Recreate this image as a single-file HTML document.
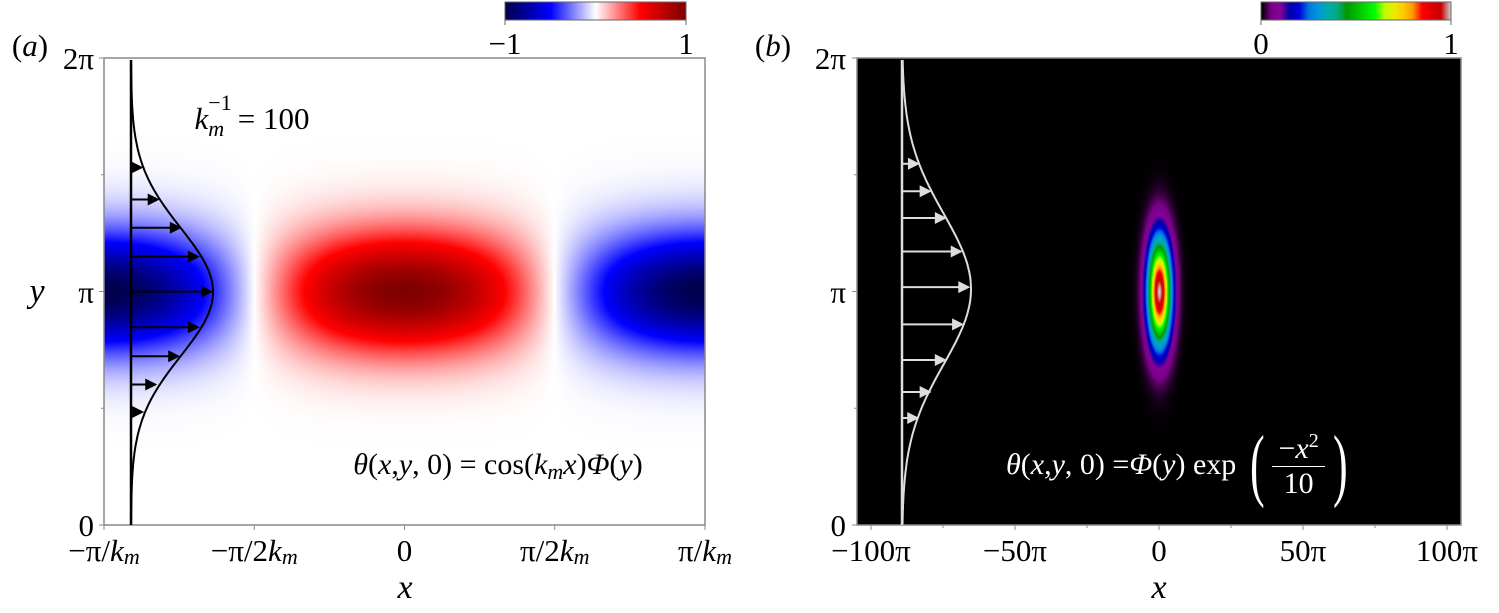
<!DOCTYPE html>
<html><head><meta charset="utf-8"><style>
html,body{margin:0;padding:0;background:#fff;}
#root{position:relative;width:1499px;height:613px;overflow:hidden;}
#root, #root div, #root span, svg text{font-family:"Liberation Serif","Times New Roman",Times,"DejaVu Serif",serif !important;}
canvas{position:absolute;}
svg{position:absolute;left:0;top:0;}
.sub{font-size:22px;font-style:italic;position:relative;top:7px;}
</style></head><body>
<div id="root">
<canvas id="ca" width="601" height="467" style="left:104px;top:58px"></canvas>
<canvas id="cb" width="604" height="467" style="left:857px;top:58px"></canvas>
<canvas id="cba" width="181" height="18" style="left:505px;top:2px"></canvas>
<canvas id="cbb" width="190" height="18" style="left:1261px;top:2px"></canvas>
<svg id="svg" width="1499" height="613"></svg>
</div>
<script>
// ---- data ----
const yTickVals = [0, Math.PI, 2*Math.PI];
const yTickLabels = ["0", "π", "2π"];
const xTickValsA = [-1, -0.5, 0, 0.5, 1];
const xTickLabelsA = ["−π/<i>k</i><span class='sub'>m</span>", "−π/2<i>k</i><span class='sub'>m</span>", "0", "π/2<i>k</i><span class='sub'>m</span>", "π/<i>k</i><span class='sub'>m</span>"];
const xTickValsB = [-100, -50, 0, 50, 100];
const xTickLabelsB = ["−100π", "−50π", "0", "50π", "100π"];
const arrowYA = [4.81, 4.38, 4.00, 3.61, 3.14, 2.66, 2.27, 1.89, 1.52];
const arrowUA = [0.15, 0.35, 0.62, 0.84, 1.0, 0.84, 0.60, 0.32, 0.16];
const arrowYB = [4.86, 4.49, 4.13, 3.68, 3.20, 2.70, 2.22, 1.79, 1.44];
const arrowUB = [0.26, 0.43, 0.65, 0.88, 0.99, 0.90, 0.65, 0.43, 0.25];

// ---- axes ----
const TOP=58, BOT=525;
const yS = v => BOT - v/(2*Math.PI)*(BOT-TOP);
const xA = v => 104 + (v+1)/2*(705-104);
const xB = v => 871 + (v+100)/200*(1447-871);
const NS="http://www.w3.org/2000/svg";
const svg=document.getElementById('svg');
function mk(tag, attrs, parent){const e=document.createElementNS(NS,tag);for(const k in attrs)e.setAttribute(k,attrs[k]);(parent||svg).appendChild(e);return e;}

function seismic(v){
  const t=(v+1)/2; let r,g,b;
  if(t<0.25){const s=t/0.25;r=0;g=0;b=0.3+0.7*s;}
  else if(t<0.5){const s=(t-0.25)/0.25;r=s;g=s;b=1;}
  else if(t<0.75){const s=(t-0.5)/0.25;r=1;g=1-s;b=1-s;}
  else {const s=(t-0.75)/0.25;r=1-0.5*s;g=0;b=0;}
  return [r*255,g*255,b*255];
}
const specStops=[[0,0,0,0],[0.05,0.47,0,0.53],[0.1,0.53,0,0.6],[0.15,0,0,0.67],[0.2,0,0,0.87],[0.25,0,0.47,0.87],[0.3,0,0.6,0.87],[0.35,0,0.67,0.67],[0.4,0,0.67,0.53],[0.45,0,0.6,0],[0.5,0,0.73,0],[0.55,0,0.87,0],[0.6,0,1,0],[0.65,0.73,1,0],[0.7,0.93,0.93,0],[0.75,1,0.8,0],[0.8,1,0.6,0],[0.85,1,0,0],[0.9,0.87,0,0],[0.95,0.8,0,0],[1,0.8,0.8,0.8]];
function spectral(t){t=Math.max(0,Math.min(1,t));for(let i=1;i<specStops.length;i++){if(t<=specStops[i][0]){const a=specStops[i-1],b=specStops[i];const s=(t-a[0])/(b[0]-a[0]);return [0,1,2].map(k=>(a[k+1]+s*(b[k+1]-a[k+1]))*255);}}return [204,204,204];}

(function(){
  const c=document.getElementById('ca'),ctx=c.getContext('2d'),W=c.width,H=c.height,img=ctx.createImageData(W,H);
  const cy=yS(Math.PI)-TOP;
  for(let j=0;j<H;j++){const d=j-cy;const phi=Math.exp(-d*d/(2*42*42));
    for(let i=0;i<W;i++){const t=(i-(W-1)/2)/((W-1)/2);const v=Math.cos(Math.PI*t)*phi;const col=seismic(v);const p=(j*W+i)*4;img.data[p]=col[0];img.data[p+1]=col[1];img.data[p+2]=col[2];img.data[p+3]=255;}}
  ctx.putImageData(img,0,0);
  const cb=document.getElementById('cba'),cx=cb.getContext('2d');
  for(let i=0;i<cb.width;i++){const col=seismic(-1+2*i/(cb.width-1));cx.fillStyle=`rgb(${col[0]|0},${col[1]|0},${col[2]|0})`;cx.fillRect(i,0,1,18);}
})();
(function(){
  const c=document.getElementById('cb'),ctx=c.getContext('2d'),W=c.width,H=c.height,img=ctx.createImageData(W,H);
  const cx0=xB(0)-857, cy=yS(Math.PI)-TOP;
  for(let j=0;j<H;j++){const dy=j-cy;
    for(let i=0;i<W;i++){const dx=i-cx0;const v=Math.exp(-dx*dx/(2*8*8)-dy*dy/(2*36*36));const col=spectral(v);const p=(j*W+i)*4;img.data[p]=col[0];img.data[p+1]=col[1];img.data[p+2]=col[2];img.data[p+3]=255;}}
  ctx.putImageData(img,0,0);
  const cb=document.getElementById('cbb'),x=cb.getContext('2d');
  for(let i=0;i<cb.width;i++){const col=spectral(i/(cb.width-1));x.fillStyle=`rgb(${col[0]|0},${col[1]|0},${col[2]|0})`;x.fillRect(i,0,1,18);}
})();

const fa=mk('rect',{x:104,y:58,width:601,height:467,fill:'none',stroke:'#888','stroke-width':1.5});

const fb=mk('rect',{x:857,y:58,width:604,height:467,fill:'none',stroke:'#888','stroke-width':1.5});

mk('rect',{x:505,y:2,width:181,height:18,fill:'none',stroke:'#666','stroke-width':1});
mk('rect',{x:1261,y:2,width:190,height:18,fill:'none',stroke:'#666','stroke-width':1});
function html(x,y,content,size,anchor,color,name){
  const fo=mk('foreignObject',{x:x-150,y:y-size,width:300,height:size*2});
  const d=document.createElement('div');
  d.style.cssText=`width:300px;height:${size*2}px;display:flex;align-items:center;justify-content:${anchor};font-size:${size}px;color:${color};line-height:1;white-space:nowrap;`;
  d.innerHTML=content;
  
  
  fo.appendChild(d);return d;
}
yTickVals.forEach((v,i)=>{
  mk('line',{x1:99,x2:104,y1:yS(v),y2:yS(v),stroke:'#888'});
  mk('line',{x1:852,x2:857,y1:yS(v),y2:yS(v),stroke:'#888'});
  const t1=mk('text',{x:94,y:yS(v)+11,'text-anchor':'end','font-size':31});t1.textContent=yTickLabels[i];
  
  const t2=mk('text',{x:846,y:yS(v)+11,'text-anchor':'end','font-size':31});t2.textContent=yTickLabels[i];
  
});
[Math.PI/2,3*Math.PI/2].forEach(v=>{mk('line',{x1:101,x2:104,y1:yS(v),y2:yS(v),stroke:'#888'});mk('line',{x1:854,x2:857,y1:yS(v),y2:yS(v),stroke:'#888'});});
xTickValsA.forEach((v,i)=>{mk('line',{x1:xA(v),x2:xA(v),y1:525,y2:530,stroke:'#888'});
  html(xA(v),550,xTickLabelsA[i],31,'center','#000','x-tick-label-a');});
xTickValsB.forEach((v,i)=>{mk('line',{x1:xB(v),x2:xB(v),y1:525,y2:530,stroke:'#888'});
  html(xB(v),550,xTickLabelsB[i],31,'center','#000','x-tick-label-b');});
[-75,-25,25,75].forEach(v=>mk('line',{x1:xB(v),x2:xB(v),y1:525,y2:528,stroke:'#888'}));
[[505,'−1'],[686,'1'],[1261,'0'],[1451,'1']].forEach(a=>{mk('line',{x1:a[0],x2:a[0],y1:20,y2:25,stroke:'#666'});html(a[0],43,a[1],31,'center','#000','colorbar-tick-label');});
html(405,588,'<i>x</i>',34,'center','#000','x-axis-title-a');
html(1159,588,'<i>x</i>',34,'center','#000','x-axis-title-b');
html(37,292,'<i>y</i>',34,'center','#000','y-axis-title-a');
html(30,45,'(<i>a</i>)',31,'center','#000','panel-label-a');
html(773,45,'(<i>b</i>)',31,'center','#000','panel-label-b');
html(252,118,'<i>k</i><span style="display:inline-flex;flex-direction:column;font-size:22px;line-height:1;margin-right:6px;position:relative;top:-2px"><span>−1</span><i style="margin-top:4px">m</i></span>= 100',31,'center','#000','km-annotation');
html(498,465,'<i>θ</i>(<i>x</i>, <i>y</i>, 0) = cos(<i>k</i><span class="sub">m</span><i>x</i>)<i>Φ</i> (<i>y</i>)',30,'center','#000','equation-a');
const fo=mk('foreignObject',{x:990,y:420,width:470,height:90});
const eq=document.createElement('div');


eq.style.cssText='display:flex;align-items:center;height:90px;font-size:30px;color:#fff;white-space:nowrap;padding-left:16px';
eq.innerHTML='<i>θ</i>(<i>x</i>, <i>y</i>, 0) = <i>Φ</i> (<i>y</i>) exp&nbsp;<span style="font-size:80px;line-height:1;transform:scaleX(0.55);display:inline-block">(</span><span style="display:inline-flex;flex-direction:column;align-items:center;margin:0 2px"><span style="border-bottom:1.5px solid #fff;padding:0 6px">−<i>x</i><sup style="font-size:20px">2</sup></span><span>10</span></span><span style="font-size:80px;line-height:1;transform:scaleX(0.55);display:inline-block">)</span>';
fo.appendChild(eq);

function profile(x0,amp,ycen,sig,color,ys,us,name){
  const g=mk('g',{});
  
  mk('line',{x1:x0,x2:x0,y1:TOP+2,y2:BOT,stroke:color,'stroke-width':2.5},g);
  let d='';
  for(let py=TOP+2;py<=BOT;py+=2){const dd=py-ycen;const px=x0+amp*Math.exp(-dd*dd/(2*sig*sig));d+=(d?'L':'M')+px.toFixed(1)+','+py;}
  mk('path',{d:d,fill:'none',stroke:color,'stroke-width':2},g);
  ys.forEach((v,i)=>{const y=yS(v);const xe=x0+amp*us[i];
    const a=mk('line',{x1:x0,x2:xe-10,y1:y,y2:y,stroke:color,'stroke-width':2},g);
    
    mk('polygon',{points:`${xe},${y} ${xe-12},${y-6} ${xe-12},${y+6}`,fill:color},g);});
}
profile(131,82,292,64,'#000',arrowYA,arrowUA,'velocity-profile-a');
profile(902,69,289,75,'#ddd',arrowYB,arrowUB,'velocity-profile-b');
</script>
</body></html>
